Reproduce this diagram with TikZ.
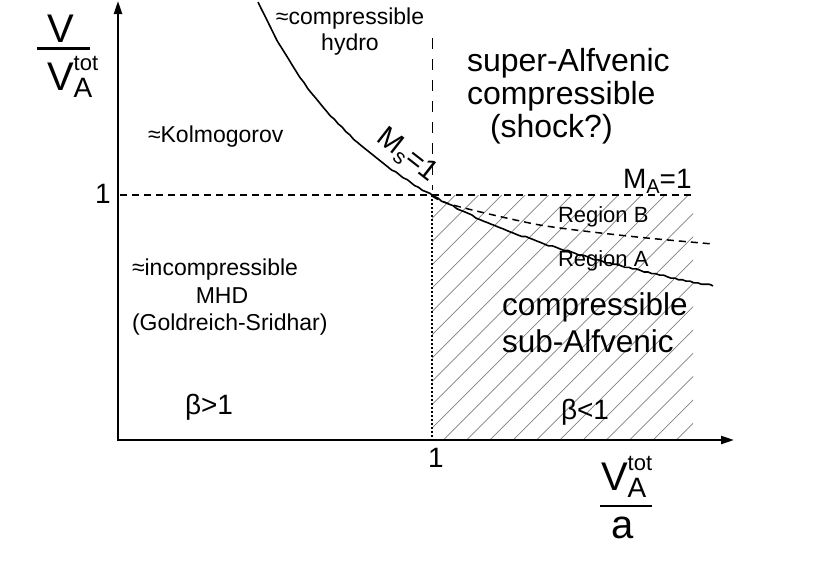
\documentclass[tikz,border=0pt]{standalone}
\usepackage{fontspec}
\setmainfont{Liberation Sans}
\usetikzlibrary{arrows.meta}
\newcommand{\myfs}[1]{\fontsize{#1}{#1}\selectfont}
\newcommand{\myvatot}{V\rlap{\raisebox{-7pt}{\myfs{28}A}}\raisebox{20pt}{\myfs{22}tot}}
\begin{document}
\begin{tikzpicture}[x=1pt,y=-1pt,
  lbl/.style={inner sep=0pt, outer sep=0pt, anchor=base west},
  clbl/.style={inner sep=0pt, outer sep=0pt, anchor=base},
  small/.style={font=\myfs{23}},
  big/.style={font=\myfs{32}},
  mid/.style={font=\myfs{28}},
  axisline/.style={line width=2.2pt, -{Triangle[length=13pt,width=8pt]}},
  curveline/.style={line width=1.6pt},
  dashline/.style={line width=1.5pt, dash pattern=on 7pt off 5pt},
  vdashline/.style={line width=1pt, dash pattern=on 11pt off 10pt},
  dotline/.style={line width=2pt, dash pattern=on 2pt off 2pt},
  hatchline/.style={line width=0.7pt, draw=black!50}]
\useasboundingbox (0,0) rectangle (822,576);

% hatched region
\begin{scope}
  \clip (432,195) rectangle (693,440);
  \foreach \k in {0,...,23}
    \draw[hatchline] ({187+\k*23.3},440) -- ++(245,-245);
\end{scope}

% reference lines
\draw[dotline] (432,195) -- (432,440);
\draw[vdashline] (432,38) -- (432,190);
\draw[dashline] (120,195) -- (693,195);

% M_s = 1 curve
\draw[curveline] plot[domain=258:713, samples=120, smooth] (\x, {440-15420*pow(\x-118,-0.72)});
% region boundary curve
\draw[dashline] plot[smooth, tension=0.6] coordinates {(432,196) (453,205) (520,221) (560,228) (637,237) (713,244)};

% axes
\draw[axisline] (118,441) -- (118,1);
\draw[axisline] (117,440) -- (734,440);

% axis labels
\node[lbl, font=\myfs{40}] (ynum) at (47,42) {V};
\draw[line width=3pt] (37,48) -- (90,48);
\node[lbl, font=\myfs{40}] (yden) at (47,90) {\myvatot};

\node[lbl, font=\myfs{40}] (xnum) at (601,490) {\myvatot};
\draw[line width=1.6pt] (600,506) -- (652,506);
\node[lbl, font=\myfs{40}] (xden) at (611,538) {a};

% tick labels
\node[inner sep=0pt, anchor=base east, mid] (yone) at (111,203) {1};
\node[clbl, mid] (xone) at (436,467) {1};

% region labels
\node[clbl, small] (hydro1) at (350,24) {≈compressible};
\node[clbl, small] (hydro2) at (350,50) {hydro};
\node[lbl, small] (kolm) at (148,142) {≈Kolmogorov};
\node[lbl, small] (inc1) at (132,275) {≈incompressible};
\node[clbl, small] (inc2) at (222,303) {MHD};
\node[lbl, small] (inc3) at (132,330) {(Goldreich-Sridhar)};
\node[lbl, big] (sup1) at (467,71) {super-Alfvenic};
\node[lbl, big] (sup2) at (467,104) {compressible};
\node[lbl, big] (sup3) at (490,137) {(shock?)};
\node[lbl, font=\myfs{31.5}] (sub1) at (502,315) {compressible};
\node[lbl, font=\myfs{31.5}] (sub2) at (502,352) {sub-Alfvenic};
\node[lbl, mid] (bgt) at (185,414) {β>1};
\node[lbl, mid] (blt) at (561,419) {β<1};
\node[lbl, font=\myfs{22}] (regB) at (558,222) {Region B};
\node[lbl, font=\myfs{22}] (regA) at (558,266) {Region A};
\node[lbl, mid] (ma) at (623,188) {M\raisebox{-5pt}{\myfs{20}A}=1};
\node[inner sep=0pt, rotate=-38, font=\myfs{29}] (ms) at (407,156) {M\raisebox{-5pt}{\myfs{21}s}=1};
\end{tikzpicture}
\end{document}
